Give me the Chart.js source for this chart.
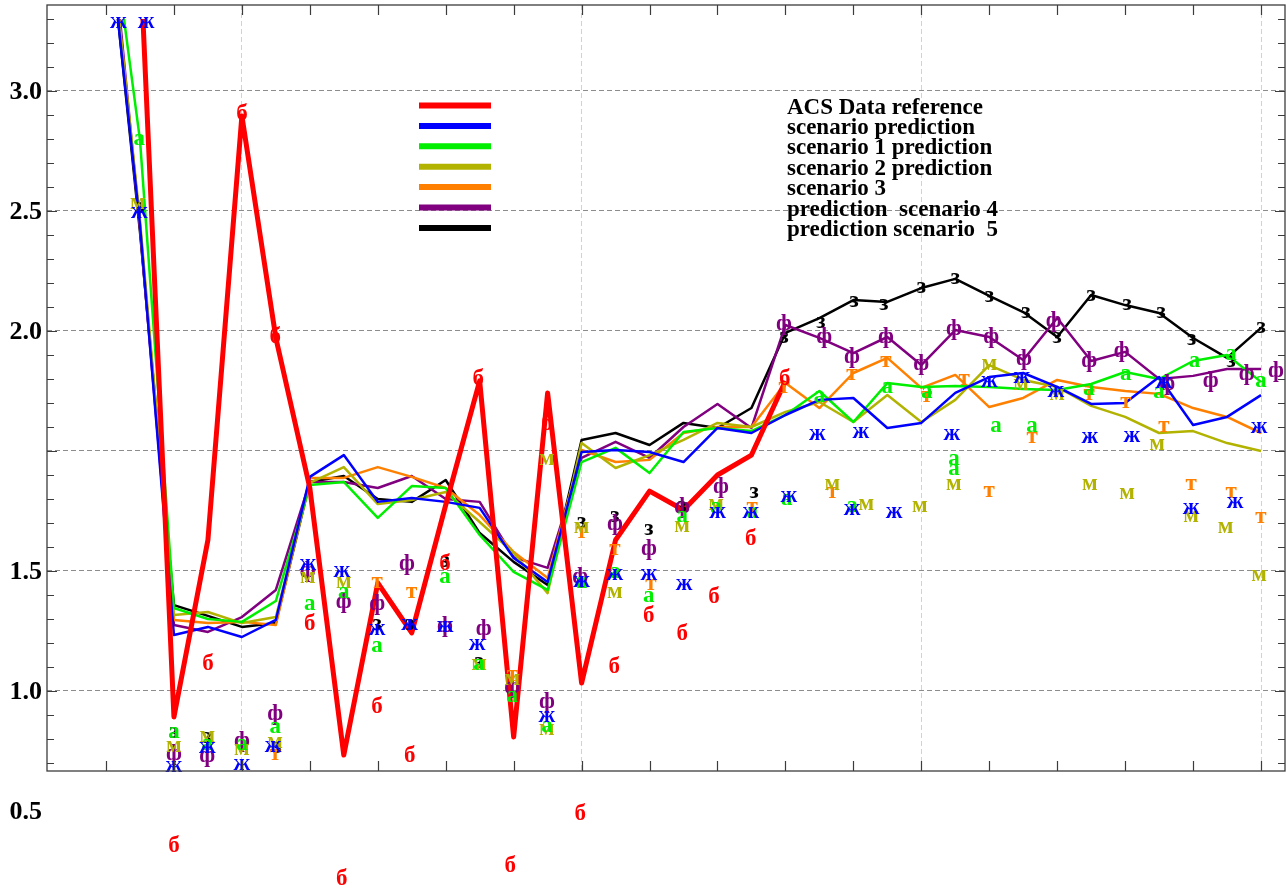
<!DOCTYPE html>
<html>
<head>
<meta charset="utf-8">
<title>ACS data reference and scenario predictions</title>
<script src="https://cdn.jsdelivr.net/npm/chart.js@4.4.0/dist/chart.umd.min.js"></script>
<style>
    html, body { margin: 0; padding: 0; background: #ffffff; }
    #wrap { width: 1286px; height: 889px; }
</style>
</head>
<body>
<div id="wrap"><canvas id="chart_0" width="1286" height="889"></canvas></div>
<script>
// Sample positions along the x axis
const xValues = [3, 3.5, 4, 4.5, 5, 5.5, 6, 6.5, 7, 7.5, 8, 8.5, 9, 9.5, 10, 10.5, 11, 11.5,
    12, 12.5, 13, 13.5, 14, 14.5, 15, 15.5, 16, 16.5, 17, 17.5, 18, 18.5, 19, 19.5, 20];

// Line values, one per sample
const acsReference = [3.796, 3.579, 0.392, 1.129, 2.896, 1.971, 1.346, 0.233, 0.95, 0.742, 1.275,
    1.792, 0.308, 1.742, 0.533, 1.129, 1.333, 1.254, 1.4, 1.483, 1.792];
const scenarioPrediction = [3.767, 2.442, 0.733, 0.767, 0.725, 0.796, 1.392, 1.483, 1.288, 1.304,
    1.288, 1.263, 1.054, 0.954, 1.496, 1.504, 1.496, 1.454, 1.596, 1.575, 1.65, 1.713, 1.721, 1.596,
    1.617, 1.742, 1.808, 1.825, 1.767, 1.696, 1.7, 1.808, 1.608, 1.642, 1.733];
const scenario1 = [3.867, 2.796, 0.846, 0.8, 0.788, 0.875, 1.358, 1.371, 1.221, 1.354, 1.346, 1.15,
    0.996, 0.921, 1.454, 1.513, 1.408, 1.579, 1.596, 1.583, 1.65, 1.75, 1.621, 1.783, 1.767, 1.771,
    1.767, 1.758, 1.754, 1.779, 1.829, 1.8, 1.875, 1.9, 1.788];
const scenario2 = [3.817, 2.463, 0.817, 0.829, 0.783, 0.808, 1.367, 1.433, 1.279, 1.296, 1.329, 1.204,
    1.075, 0.908, 1.533, 1.429, 1.483, 1.546, 1.617, 1.6, 1.663, 1.704, 1.621, 1.733, 1.621, 1.713,
    1.858, 1.796, 1.767, 1.688, 1.642, 1.575, 1.583, 1.533, 1.5];
const scenario3 = [3.829, 2.442, 0.796, 0.783, 0.788, 0.775, 1.388, 1.388, 1.433, 1.392, 1.346, 1.233,
    1.079, 0.971, 1.504, 1.454, 1.463, 1.575, 1.6, 1.6, 1.783, 1.679, 1.825, 1.888, 1.763, 1.817,
    1.683, 1.721, 1.796, 1.767, 1.75, 1.738, 1.679, 1.642, 1.575];
const scenario4 = [3.908, 2.429, 0.775, 0.746, 0.808, 0.921, 1.371, 1.371, 1.346, 1.396, 1.3, 1.288,
    1.058, 1.013, 1.471, 1.538, 1.471, 1.6, 1.696, 1.596, 2.025, 1.971, 1.908, 1.975, 1.858, 2.004,
    1.975, 1.879, 2.054, 1.875, 1.913, 1.8, 1.813, 1.842, 1.842];
const scenario5 = [3.783, 2.413, 0.858, 0.813, 0.767, 0.783, 1.371, 1.396, 1.3, 1.288, 1.379, 1.158,
    1.038, 0.942, 1.546, 1.575, 1.525, 1.617, 1.596, 1.679, 1.992, 2.054, 2.129, 2.121, 2.179, 2.217,
    2.146, 2.079, 1.975, 2.15, 2.108, 2.075, 1.971, 1.888, 2.013];

// Letter markers [x, y] for each series
const acsReferenceMarks = [[4, -0.15], [4.5, 0.608], [5, 2.9], [5.49, 1.971], [6, 0.775], [6.47, -0.288],
    [6.99, 0.429], [7.47, 0.225], [7.99, 1.025], [8.48, 1.796], [8.95, -0.233], [9.49, 1.608],
    [9.98, -0.017], [10.48, 0.596], [10.99, 0.808], [11.48, 0.733], [11.95, 0.888], [12.49, 1.129],
    [12.99, 1.796]];
const scenarioPredictionMarks = [[3.18, 3.283], [3.59, 3.283], [3.49, 2.492], [4, 0.183], [4.49, 0.263],
    [5, 0.192], [5.46, 0.267], [5.97, 1.025], [6.47, 0.996], [6.99, 0.754], [7.47, 0.775], [7.99, 0.767],
    [8.46, 0.692], [9.49, 0.392], [10, 0.954], [10.49, 0.983], [10.99, 0.983], [11.51, 0.942], [12, 1.242],
    [12.49, 1.242], [13.05, 1.308], [13.47, 1.567], [13.98, 1.254], [14.11, 1.575], [14.6, 1.242],
    [15.45, 1.567], [16, 1.788], [16.48, 1.804], [16.98, 1.746], [17.48, 1.554], [18.1, 1.558],
    [18.57, 1.783], [18.97, 1.258], [19.62, 1.283], [19.97, 1.596]];
const scenario1Marks = [[3.49, 2.796], [4, 0.325], [4.49, 0.275], [5, 0.275], [5.49, 0.346], [6, 0.858],
    [6.5, 0.908], [6.99, 0.683], [7.99, 0.971], [8.49, 0.608], [8.98, 0.475], [9.49, 0.35], [10, 0.95],
    [10.49, 0.992], [10.99, 0.892], [11.48, 1.225], [11.98, 1.263], [12.51, 1.242], [13.02, 1.296],
    [13.5, 1.725], [13.98, 1.267], [14.5, 1.763], [15.08, 1.742], [15.48, 1.463], [15.48, 1.421],
    [16.1, 1.6], [16.63, 1.6], [17.47, 1.754], [18.01, 1.817], [18.5, 1.742], [19.02, 1.871],
    [19.56, 1.9], [20, 1.788]];
const scenario2Marks = [[3.47, 2.529], [4, 0.267], [4.49, 0.308], [5, 0.254], [5.49, 0.283], [5.97, 0.971],
    [6.5, 0.95], [8.49, 0.608], [8.98, 0.546], [9.49, 1.463], [9.49, 0.338], [10, 1.179], [10.49, 0.908],
    [11.48, 1.183], [11.98, 1.275], [13.69, 1.358], [14.19, 1.275], [14.98, 1.267], [15.48, 1.358],
    [16, 1.858], [16.47, 1.775], [17, 1.733], [17.48, 1.358], [18.03, 1.321], [18.47, 1.525],
    [18.97, 1.225], [19.48, 1.179], [19.97, 0.979]];
const scenario3Marks = [[5.49, 0.233], [6.99, 0.95], [7.5, 0.908], [8.98, 0.563], [10, 1.158],
    [10.49, 1.088], [11.02, 0.942], [12.51, 1.263], [12.98, 1.763], [13.69, 1.325], [13.98, 1.817],
    [14.48, 1.871], [15.08, 1.725], [15.63, 1.796], [16, 1.329], [16.63, 1.554], [17.47, 1.733],
    [18.01, 1.7], [18.57, 1.6], [18.97, 1.358], [19.56, 1.325], [20, 1.221]];
const scenario4Marks = [[4, 0.233], [4.49, 0.225], [5, 0.288], [5.49, 0.4], [5.97, 0.996], [6.5, 0.867],
    [6.99, 0.858], [7.43, 1.025], [7.99, 0.767], [8.56, 0.754], [8.98, 0.513], [9.49, 0.45], [9.98, 0.971],
    [10.49, 1.192], [10.99, 1.088], [11.48, 1.263], [12.05, 1.346], [12.98, 2.025], [13.57, 1.971],
    [13.98, 1.888], [14.48, 1.971], [15, 1.858], [15.48, 2.004], [16.03, 1.971], [16.51, 1.879],
    [16.95, 2.038], [17.47, 1.871], [17.95, 1.913], [18.62, 1.775], [19.26, 1.788], [19.79, 1.817],
    [20.22, 1.829]];
const scenario5Marks = [[3.5, 2.513], [4, 0.325], [4.49, 0.304], [5.52, 0.263], [6.99, 0.775], [7.47, 0.775],
    [7.99, 1.038], [8.49, 0.617], [10, 1.2], [10.49, 1.225], [10.99, 1.171], [11.48, 1.267], [12.54, 1.325],
    [12.98, 1.971], [13.52, 2.033], [14.01, 2.121], [14.45, 2.108], [15, 2.179], [15.5, 2.217],
    [16, 2.142], [16.54, 2.075], [17, 1.971], [17.5, 2.146], [18.03, 2.108], [18.53, 2.075],
    [18.98, 1.963], [19.56, 1.871], [20, 2.013]];

const seriesLabels = ['ACS Data reference', 'scenario prediction', 'scenario 1 prediction',
    'scenario 2 prediction', 'scenario 3', 'prediction  scenario 4', 'prediction scenario  5'];
const markerGlyphs = ['б', 'ж', 'а', 'м', 'т', 'ф', 'з'];

// Y tick positions (axis units) and the text printed beside them
const yTickValues = [3.0, 2.5, 2.0, 1.0, 0.5, 0.0];
const yTickLabels = ['3.0', '2.5', '2.0', '1.5', '1.0', '0.5'];

const seriesValues = [acsReference, scenarioPrediction, scenario1, scenario2, scenario3, scenario4, scenario5];
const seriesMarks = [acsReferenceMarks, scenarioPredictionMarks, scenario1Marks, scenario2Marks,
    scenario3Marks, scenario4Marks, scenario5Marks];
const seriesColors = ['#ff0000', '#0000ff', '#00ee00', '#b2b200', '#ff8000', '#800080', '#000000'];
const lineWidths = [5, 2.5, 2.5, 2.5, 2.5, 2.5, 2.5];

const SERIF = '"Liberation Serif", "DejaVu Serif", serif';

function toPoints(values) {
    return values.map((v, i) => ({ x: xValues[i], y: v }));
}

// Frame, tick marks, y labels, letter markers and legend
const decorPlugin = {
    id: 'decor',
    afterDatasetsDraw(chart) {
        const ctx = chart.ctx;
        const xs = chart.scales.x, ys = chart.scales.y;
        ctx.save();
        ctx.font = 'bold 23px ' + SERIF;
        ctx.textAlign = 'center';
        ctx.textBaseline = 'alphabetic';
        for (let s = seriesMarks.length - 1; s >= 0; s--) {
            ctx.fillStyle = seriesColors[s];
            seriesMarks[s].forEach(function (m) {
                ctx.fillText(markerGlyphs[s], xs.getPixelForValue(m[0]), ys.getPixelForValue(m[1]) + 5);
            });
        }
        ctx.restore();
    },
    afterDraw(chart) {
        const ctx = chart.ctx;
        const a = chart.chartArea;
        const xs = chart.scales.x, ys = chart.scales.y;
        ctx.save();

        // frame
        ctx.strokeStyle = '#3c3c3c';
        ctx.lineWidth = 1.3;
        ctx.strokeRect(a.left, a.top, a.right - a.left, a.bottom - a.top);

        // y ticks, both sides
        ctx.lineWidth = 1.2;
        ctx.beginPath();
        for (let k = 2; k <= 33; k++) {
            const py = Math.round(ys.getPixelForValue(k / 10)) + 0.5;
            const len = k % 5 === 0 ? 10 : 7;
            ctx.moveTo(a.left, py); ctx.lineTo(a.left + len, py);
            ctx.moveTo(a.right, py); ctx.lineTo(a.right - len, py);
        }
        // x ticks, top and bottom
        for (let k = 3; k <= 20; k++) {
            const px = Math.round(xs.getPixelForValue(k)) + 0.5;
            ctx.moveTo(px, a.top); ctx.lineTo(px, a.top + 10);
            ctx.moveTo(px, a.bottom); ctx.lineTo(px, a.bottom - 10);
        }
        ctx.stroke();

        // y labels
        ctx.fillStyle = '#000';
        ctx.font = 'bold 26px ' + SERIF;
        ctx.textAlign = 'right';
        ctx.textBaseline = 'middle';
        yTickValues.forEach(function (v, i) {
            ctx.fillText(yTickLabels[i], 42, ys.getPixelForValue(v) + 1);
        });

        // legend
        ctx.font = 'bold 23px ' + SERIF;
        ctx.textAlign = 'left';
        ctx.textBaseline = 'alphabetic';
        ctx.lineWidth = 6;
        ctx.lineCap = 'butt';
        seriesLabels.forEach(function (label, i) {
            const rowY = 105.5 + i * 20.4;
            ctx.strokeStyle = seriesColors[i];
            ctx.beginPath();
            ctx.moveTo(419, rowY);
            ctx.lineTo(491, rowY);
            ctx.stroke();
            ctx.fillStyle = '#000';
            ctx.fillText(label, 787, rowY + 8);
        });
        ctx.restore();
    }
};

function createChart0() {
    const ctx = document.getElementById('chart_0');
    if (!ctx) {
        console.error('Canvas element with id "chart_0" not found');
        return;
    }

    const datasets = seriesValues.map(function (values, i) {
        return {
            label: seriesLabels[i],
            data: toPoints(values),
            borderColor: seriesColors[i],
            backgroundColor: seriesColors[i],
            borderWidth: lineWidths[i],
            borderJoinStyle: 'round',
            pointRadius: 0,
            tension: 0,
            fill: false,
            clip: { left: 0, top: -14, right: 0, bottom: 0 }
        };
    });

    new Chart(ctx.getContext('2d'), {
        type: 'line',
        data: { datasets: datasets },
        options: {
            responsive: false,
            animation: false,
            devicePixelRatio: 1,
            layout: { padding: { left: 47, top: 5, right: 1, bottom: 118 } },
            plugins: {
                legend: { display: false },
                tooltip: { enabled: false }
            },
            scales: {
                x: {
                    type: 'linear',
                    min: 2.1316,
                    max: 20.353,
                    ticks: { display: false, stepSize: 5, includeBounds: false },
                    grid: { color: '#d2d2d2', lineWidth: 1, drawTicks: false },
                    border: { display: false, dash: [5, 3] }
                },
                y: {
                    type: 'linear',
                    min: 0.16667,
                    max: 3.3583,
                    ticks: { display: false, stepSize: 0.5, includeBounds: false },
                    grid: { color: '#8c8c8c', lineWidth: 1, drawTicks: false },
                    border: { display: false, dash: [5, 3] }
                }
            }
        },
        plugins: [decorPlugin]
    });
}

createChart0();
</script>
</body>
</html>
